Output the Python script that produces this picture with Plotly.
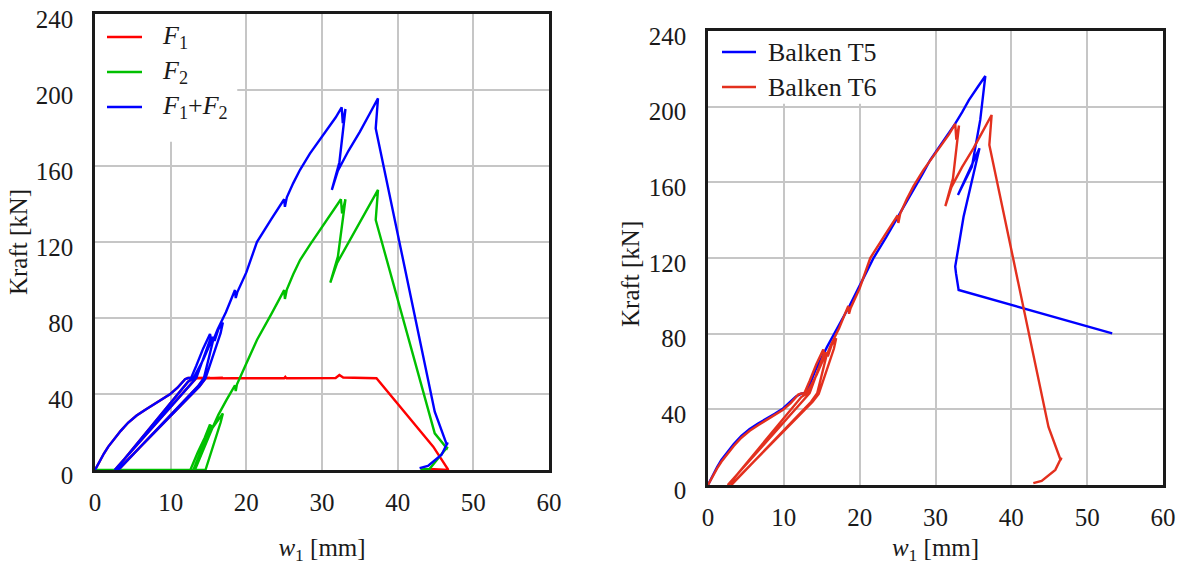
import plotly.graph_objects as go

# ---- Beam T6: individual jack forces F1, F2 and their sum (left panel) ----
w1_f1 = [0, 0.6, 1.2, 1.76, 2.5, 3.4, 4.4, 5.5, 6.6, 7.7, 8.8, 9.9, 10.9, 11.5, 11.9,
         12.3, 12.7, 15.2, 13.4, 12.4, 2.6,
         2.8, 12.3, 13.0, 16.9, 14.6, 13.8, 3.0, 3.2, 13.6, 14.4, 18.5, 25.0, 25.15, 25.3,
         31.8, 32.3, 32.8, 37.2, 44.7, 46.7, 44.2]
f1 = [0, 4.5, 8.8, 12.3, 16.2, 20.6, 25.0, 28.7, 31.6, 34.2, 36.8, 39.8, 43.3, 46.0, 47.8,
      48.4, 48.5, 48.4, 48.3, 44, 0,
      0.5, 46.5, 48.3, 48.4, 48.2, 44, 0, 0.5, 44, 48.2, 48.3, 48.3, 49.0, 48.3,
      48.4, 50.0, 48.7, 48.3, 12.3, 0, 0.5]

w1_f2 = [0, 12.6, 13.6, 14.5, 15.2, 15.3, 13.0, 2.6, 13.0, 14.0, 15.4, 15.6, 16.2, 16.9,
         16.6, 14.6, 3.0, 13.2, 15.5, 16.3, 17.4, 18.5, 18.6, 18.75, 20.0, 21.4, 23.3, 25.0,
         25.1, 25.35, 26.2, 27.1, 28.4, 29.7, 31.2, 32.5, 32.65, 33.1, 32.1, 31.1, 32.0, 34.7,
         37.4, 37.1, 44.9, 46.5, 46.6, 44.2, 43.0]
f2 = [0, 0, 9.5, 17, 24, 21.5, 0, 0, 0, 10, 23, 22.5, 26, 29.8,
      25, 0, 0, 0, 22, 29, 37, 44.5, 41.5, 45, 56, 68.4, 82, 94.7,
      90, 95, 103, 110.5, 118.5, 126, 134.5, 142.5, 135, 142.5, 112.3, 98.6, 109, 128,
      147.4, 131.6, 19.3, 11.4, 12.2, 0.5, 0.3]

w1_t6 = [0, 0.6, 1.2, 1.76, 2.5, 3.4, 4.4, 5.5, 6.6, 7.7, 8.8, 9.9, 10.9, 11.5, 11.9,
         12.3, 12.7, 13.4, 14.3, 15.2,
         15.3, 13.4, 12.4, 2.6, 2.8, 12.3, 13.0, 14.3, 15.4, 15.6, 15.8, 16.3, 16.9,
         16.6, 14.6, 13.8, 3.0, 3.2, 13.6, 14.4, 15.6, 16.2, 17.3, 18.5, 18.6, 18.8,
         20.0, 21.4, 23.3, 25.0, 25.1, 25.35, 26.2, 27.1, 28.4, 29.7, 31.0, 31.8, 32.6,
         32.75, 33.1, 32.3, 31.3, 32.1, 33.5, 35.0, 36.3, 37.4, 37.1, 44.9, 46.5, 46.6,
         45.8, 44.0, 42.9]
f_t6 = [0, 4.5, 8.8, 12.3, 16.2, 20.6, 25.0, 28.7, 31.6, 34.2, 36.8, 39.8, 43.3, 46.0, 47.8,
        48.4, 48.5, 55, 64, 71.6,
        69.5, 48.6, 44, 0, 0.5, 46.5, 48.3, 58, 69, 70, 68, 74, 77.6,
        72, 48.2, 44, 0, 0.5, 44, 48.5, 68, 74, 83, 94.7, 90.5, 93.5,
        104, 120, 132, 142.5, 138.5, 143.5, 151, 158, 166.5, 173.7, 180.5, 185.5, 190.9,
        182.5, 190, 162, 147.4, 157.5, 168, 178, 187.5, 195.6, 179.8, 30.7, 13.2, 14.5,
        8, 2.2, 1.0]

# ---- Beam T5: total force (right panel, compared with T6) ----
w1_t5 = [0, 0.6, 1.2, 1.76, 2.5, 3.4, 4.4, 5.5, 6.6, 7.7, 8.8, 9.9, 10.9, 11.6, 12.3,
         13.0, 14.2, 15.7, 17.2, 18.7, 20.2, 21.8, 23.5, 25.2, 26.2, 27.2, 28.3, 29.3,
         30.2, 31.0, 31.8, 32.6, 33.5, 34.4, 35.5, 36.57, 35.9, 34.8, 32.96, 35.8, 33.7,
         32.7, 32.6, 32.7, 33.05, 53.3]
f_t5 = [0, 5.0, 9.5, 13.2, 17.2, 21.6, 26.0, 29.6, 32.5, 35.0, 37.6, 40.5, 44.0, 46.8, 48.3,
        48.8, 61, 73, 84, 95, 107, 119.8, 131, 142.7, 150, 157, 164.5, 171.8,
        177, 182, 186.5, 191, 197, 203.5, 210, 216.2, 193, 168.3, 153.3, 178, 141.8,
        119, 115.5, 112, 103.1, 80.2]

x_ticks = [0, 10, 20, 30, 40, 50, 60]
y_ticks = [0, 40, 80, 120, 160, 200, 240]

W, H = 1183, 565
SERIF = "Liberation Serif, Times New Roman, DejaVu Serif, serif"
INK = "#1a1a1a"
GRID = "#c6c6c6"

# left panel (F1, F2, F1+F2) and right panel (T5, T6) series with their legend labels
left_series = [
    ("<i>F</i><sub>1</sub>", w1_f1, f1, "#ff0000"),
    ("<i>F</i><sub>2</sub>", w1_f2, f2, "#00c000"),
    ("<i>F</i><sub>1</sub>+<i>F</i><sub>2</sub>", w1_t6, f_t6, "#0000ff"),
]
right_series = [
    ("Balken T5", w1_t5, f_t5, "#0000ff"),
    ("Balken T6", w1_t6, f_t6, "#e3301e"),
]

fig = go.Figure()
for name, xs, ys, col in left_series:
    fig.add_trace(go.Scatter(x=xs, y=ys, mode="lines", name=name, showlegend=False,
                             line=dict(color=col, width=2.4), xaxis="x", yaxis="y"))
for name, xs, ys, col in right_series:
    fig.add_trace(go.Scatter(x=xs, y=ys, mode="lines", name=name, showlegend=False,
                             line=dict(color=col, width=2.4), xaxis="x2", yaxis="y2"))


def xax(domain, anchor, title_standoff, label_standoff):
    return dict(domain=domain, anchor=anchor, range=[0, 60], tickvals=x_ticks,
                ticktext=[str(v) for v in x_ticks], showgrid=True, automargin=False,
                gridcolor=GRID, gridwidth=1.5, zeroline=False, showline=True,
                mirror=True, linecolor=INK, linewidth=2.5, ticks="",
                layer="below traces",
                ticklabelstandoff=label_standoff,
                tickfont=dict(family=SERIF, size=25, color=INK),
                title=dict(text="<i>w</i><sub>1</sub> [mm]",
                           font=dict(family=SERIF, size=25, color=INK),
                           standoff=title_standoff),
                fixedrange=True)


def yax(domain, anchor, title):
    return dict(domain=domain, anchor=anchor, range=[0, 240], tickvals=y_ticks,
                ticktext=[str(v) for v in y_ticks], showgrid=True, automargin=False,
                gridcolor=GRID, gridwidth=1.5, zeroline=False, showline=True,
                mirror=True, linecolor=INK, linewidth=2.5, ticks="",
                layer="below traces",
                ticklabelstandoff=14, ticklabelshift=5,
                tickfont=dict(family=SERIF, size=25, color=INK),
                title=title, fixedrange=True)


shapes = []
annotations = []

# white panels behind the legends (above grid, below curves)
shapes.append(dict(type="rect", xref="x", yref="y", x0=0, x1=18.8, y0=172.8, y1=240,
                   fillcolor="white", line=dict(width=0), layer="between"))
shapes.append(dict(type="rect", xref="x2", yref="y2", x0=0, x1=25.4, y0=201.5, y1=240,
                   fillcolor="white", line=dict(width=0), layer="between"))


def legend_block(series, x_line0, x_line1, x_text, y_first, step):
    for i, (name, _, _, col) in enumerate(series):
        yy = y_first + i * step
        shapes.append(dict(type="line", xref="paper", yref="paper",
                           x0=x_line0 / W, x1=x_line1 / W, y0=1 - yy / H, y1=1 - yy / H,
                           line=dict(color=col, width=2.4)))
        annotations.append(dict(text=name, xref="paper", yref="paper", x=x_text / W,
                                y=1 - yy / H, xanchor="left", yanchor="middle",
                                showarrow=False,
                                font=dict(family=SERIF, size=26, color=INK)))


legend_block(left_series, 107, 142, 160, 37, 35)
legend_block(right_series, 722, 756, 766, 52, 35)

# y title of the right panel, placed a little below the panel centre
annotations.append(dict(text="Kraft [kN]", xref="paper", yref="paper", x=630 / W,
                        y=1 - 274 / H, xanchor="center", yanchor="middle",
                        textangle=-90, showarrow=False,
                        font=dict(family=SERIF, size=25, color=INK)))

fig.update_layout(
    width=W, height=H,
    margin=dict(l=0, r=0, t=0, b=0),
    paper_bgcolor="white", plot_bgcolor="white",
    showlegend=False,
    xaxis=xax([95 / W, 549 / W], "y", 30, 8),
    yaxis=yax([1 - 470 / H, 1 - 14 / H], "x",
              dict(text="Kraft [kN]", font=dict(family=SERIF, size=25, color=INK),
                   standoff=2)),
    xaxis2=xax([708 / W, 1163 / W], "y2", 14, 8),
    yaxis2=yax([1 - 485 / H, 1 - 31 / H], "x2", None),
    shapes=shapes,
    annotations=annotations,
)

fig.write_html("out.html")
